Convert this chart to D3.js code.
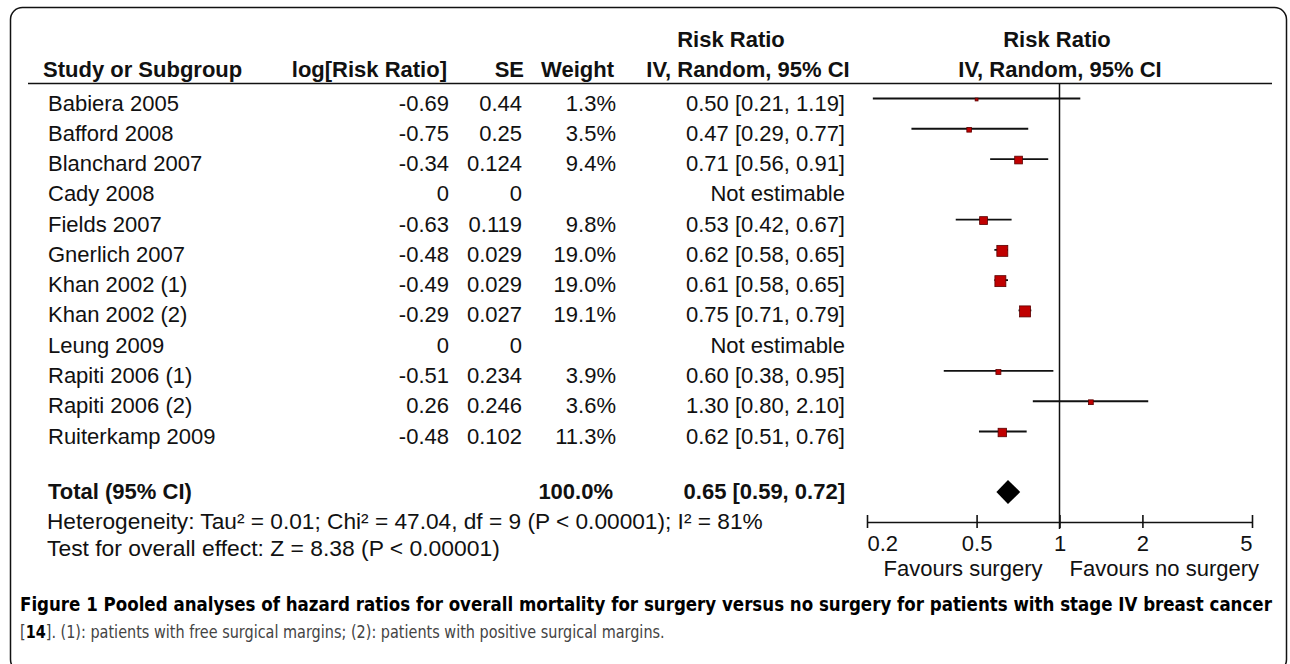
<!DOCTYPE html>
<html><head><meta charset="utf-8">
<script src="https://cdn.jsdelivr.net/npm/d3@7"></script>
<style>
html,body{margin:0;padding:0;background:#fff;}
svg{display:block;}
text{font-family:"Liberation Sans", Arial, Helvetica, sans-serif;fill:#111;}
</style></head><body>
<svg id="c" width="1290" height="664"></svg>
<script>
// ---- data ----
const studies = ["Babiera 2005","Bafford 2008","Blanchard 2007","Cady 2008","Fields 2007","Gnerlich 2007","Khan 2002 (1)","Khan 2002 (2)","Leung 2009","Rapiti 2006 (1)","Rapiti 2006 (2)","Ruiterkamp 2009"];
const logRR  = [-0.69,-0.75,-0.34,0,-0.63,-0.48,-0.49,-0.29,0,-0.51,0.26,-0.48];
const se     = [0.44,0.25,0.124,0,0.119,0.029,0.029,0.027,0,0.234,0.246,0.102];
const weight = [1.3,3.5,9.4,null,9.8,19.0,19.0,19.1,null,3.9,3.6,11.3];
const rr     = [0.50,0.47,0.71,null,0.53,0.62,0.61,0.75,null,0.60,1.30,0.62];
const ciLow  = [0.21,0.29,0.56,null,0.42,0.58,0.58,0.71,null,0.38,0.80,0.51];
const ciHigh = [1.19,0.77,0.91,null,0.67,0.65,0.65,0.79,null,0.95,2.10,0.76];
const totalLabel = "Total (95% CI)";
const totalWeight = 100.0;
const totalRR = [0.65, 0.59, 0.72]; // estimate, low, high
const tickValues = [0.2,0.5,1,2,5];
const tickLabels = ["0.2","0.5","1","2","5"];
const heterogeneity = "Heterogeneity: Tau\u00B2 = 0.01; Chi\u00B2 = 47.04, df = 9 (P < 0.00001); I\u00B2 = 81%";
const overallTest = "Test for overall effect: Z = 8.38 (P < 0.00001)";
const favLeft = "Favours surgery", favRight = "Favours no surgery";
const caption1 = "Figure 1 Pooled analyses of hazard ratios for overall mortality for surgery versus no surgery for patients with stage IV breast cancer";
const caption2 = ["[", "14", "]. (1): patients with free surgical margins; (2): patients with positive surgical margins."];

// ---- drawing ----
const svg = d3.select("#c");
const FS = 22;

// fit a text's font size so that its natural width equals a target width
function fitWidth(sel, target, base) {
  sel.attr("font-size", base);
  const w = sel.node().getComputedTextLength();
  if (w > 0) sel.attr("font-size", (base * target / w).toFixed(2));
  return sel;
}
// keep font size, squeeze horizontally to a target width (condensed look)
function squeeze(sel, x0, y0, target) {
  const w = sel.node().getComputedTextLength();
  const s = w > 0 ? target / w : 1;
  sel.attr("x", 0).attr("y", 0).attr("transform", `translate(${x0},${y0}) scale(${s.toFixed(4)},1)`);
  return sel;
}

// frame
svg.append("rect").attr("x",10.5).attr("y",7.5).attr("width",1276).attr("height",664)
  .attr("rx",12).attr("fill","none").attr("stroke","#111").attr("stroke-width",1.5);

const rowY = d3.scalePoint().domain(studies).range([98.5, 431.5]);
const totalY = 492;
const x = d3.scaleLog().domain([0.2,5]).range([867,1252]);
const side = d3.scaleSqrt().domain([0,19.1]).range([0,11]);

const fmt2 = v => v.toFixed(2);
const fmtLog = v => v === 0 ? "0" : v.toFixed(2);
const fmtSE = v => String(v);
const fmtW = v => v == null ? "" : v.toFixed(1) + "%";
const fmtCI = i => rr[i] == null ? "Not estimable" : `${fmt2(rr[i])} [${fmt2(ciLow[i])}, ${fmt2(ciHigh[i])}]`;

// headers
const hdr = svg.append("g").attr("font-weight","bold").attr("font-size",FS);
hdr.append("text").attr("x",43).attr("y",77).text("Study or Subgroup");
hdr.append("text").attr("x",447).attr("y",77).attr("text-anchor","end").text("log[Risk Ratio]");
hdr.append("text").attr("x",524).attr("y",77).attr("text-anchor","end").text("SE");
hdr.append("text").attr("x",614).attr("y",77).attr("text-anchor","end").text("Weight");
hdr.append("text").attr("x",731).attr("y",47).attr("text-anchor","middle").text("Risk Ratio");
hdr.append("text").attr("x",748).attr("y",77).attr("text-anchor","middle").text("IV, Random, 95% CI");
hdr.append("text").attr("x",1057).attr("y",47).attr("text-anchor","middle").text("Risk Ratio");
hdr.append("text").attr("x",1060).attr("y",77).attr("text-anchor","middle").text("IV, Random, 95% CI");

svg.append("line").attr("x1",28).attr("x2",1272).attr("y1",83.5).attr("y2",83.5)
  .attr("stroke","#111").attr("stroke-width",1.6);

// table rows
const rows = svg.append("g").attr("font-size",FS);
const idx = d3.range(studies.length);
const tb = 12;
rows.selectAll("text.study").data(idx).join("text").attr("class","study")
  .attr("x",48).attr("y",i=>rowY(studies[i])+tb).text(i=>studies[i]);
rows.selectAll("text.lrr").data(idx).join("text").attr("class","lrr")
  .attr("x",449).attr("y",i=>rowY(studies[i])+tb).attr("text-anchor","end").text(i=>fmtLog(logRR[i]));
rows.selectAll("text.se").data(idx).join("text").attr("class","se")
  .attr("x",522).attr("y",i=>rowY(studies[i])+tb).attr("text-anchor","end").text(i=>fmtSE(se[i]));
rows.selectAll("text.w").data(idx).join("text").attr("class","w")
  .attr("x",616).attr("y",i=>rowY(studies[i])+tb).attr("text-anchor","end").text(i=>fmtW(weight[i]));
rows.selectAll("text.ci").data(idx).join("text").attr("class","ci")
  .attr("x",845).attr("y",i=>rowY(studies[i])+tb).attr("text-anchor","end").text(i=>fmtCI(i));

// total row
const tot = svg.append("g").attr("font-size",FS).attr("font-weight","bold");
tot.append("text").attr("x",48).attr("y",totalY+7).text(totalLabel);
tot.append("text").attr("x",613).attr("y",totalY+7).attr("text-anchor","end").text(totalWeight.toFixed(1)+"%");
tot.append("text").attr("x",845).attr("y",totalY+7).attr("text-anchor","end")
  .text(`${fmt2(totalRR[0])} [${fmt2(totalRR[1])}, ${fmt2(totalRR[2])}]`);

// heterogeneity
const het = svg.append("g");
fitWidth(het.append("text").attr("x",47).attr("y",529).text(heterogeneity), 716, 21);
fitWidth(het.append("text").attr("x",47).attr("y",556).text(overallTest), 453, 21);

// forest plot
const plot = svg.append("g");
plot.append("line").attr("x1",x(1)).attr("x2",x(1)).attr("y1",83).attr("y2",529)
  .attr("stroke","#111").attr("stroke-width",1.5);

const est = idx.filter(i => rr[i] != null);
plot.selectAll("line.ci").data(est).join("line").attr("class","ci")
  .attr("x1",i=>x(ciLow[i])).attr("x2",i=>x(ciHigh[i]))
  .attr("y1",i=>rowY(studies[i])).attr("y2",i=>rowY(studies[i]))
  .attr("stroke","#111").attr("stroke-width",1.8);
plot.selectAll("rect.sq").data(est).join("rect").attr("class","sq")
  .attr("x",i=>x(rr[i]) - side(weight[i])/2)
  .attr("y",i=>rowY(studies[i]) + 1 - side(weight[i])/2)
  .attr("width",i=>side(weight[i])).attr("height",i=>side(weight[i]))
  .attr("fill","#c00000").attr("stroke","#5a0000").attr("stroke-width",0.8);

// diamond
const dh = 12;
plot.append("path")
  .attr("d", d3.line()([[x(totalRR[1]),totalY],[x(totalRR[0]),totalY-dh],[x(totalRR[2]),totalY],[x(totalRR[0]),totalY+dh]]) + "Z")
  .attr("fill","#000");

// axis
const axis = d3.axisBottom(x).tickValues(tickValues).tickFormat((d,i)=>tickLabels[i]).tickSize(0);
const gA = svg.append("g").attr("transform","translate(0,522)").call(axis);
gA.attr("font-family",null).attr("font-size",null);
gA.select(".domain").attr("stroke","#111").attr("stroke-width",1.6);
gA.selectAll(".tick line").attr("y1",-7).attr("y2",6).attr("stroke","#111").attr("stroke-width",1.6);
gA.selectAll(".tick text").attr("y",29).attr("dy",null).attr("font-size",FS).attr("fill","#111")
  .attr("text-anchor",(d,i)=> i===0 ? "start" : (i===tickValues.length-1 ? "end" : "middle"));

svg.append("text").attr("x",x(1)-17).attr("y",576).attr("font-size",FS).attr("text-anchor","end").text(favLeft);
svg.append("text").attr("x",x(1)+10).attr("y",576).attr("font-size",FS).attr("text-anchor","start").text(favRight);

// caption
const capFont = '"Liberation Sans Narrow","DejaVu Sans Condensed","Arial Narrow",sans-serif';
const c1 = svg.append("text").attr("x",20).attr("y",611).attr("font-weight","bold")
  .style("font-family",capFont).style("fill","#000").text(caption1);
fitWidth(c1, 1252, 20);
const c2 = svg.append("text").attr("font-size",18)
  .style("font-family",capFont).style("fill","#444");
c2.append("tspan").text(caption2[0]);
c2.append("tspan").attr("font-weight","bold").style("fill","#000").text(caption2[1]);
c2.append("tspan").text(caption2[2]);
squeeze(c2, 20, 638, 645);
</script>
</body></html>
